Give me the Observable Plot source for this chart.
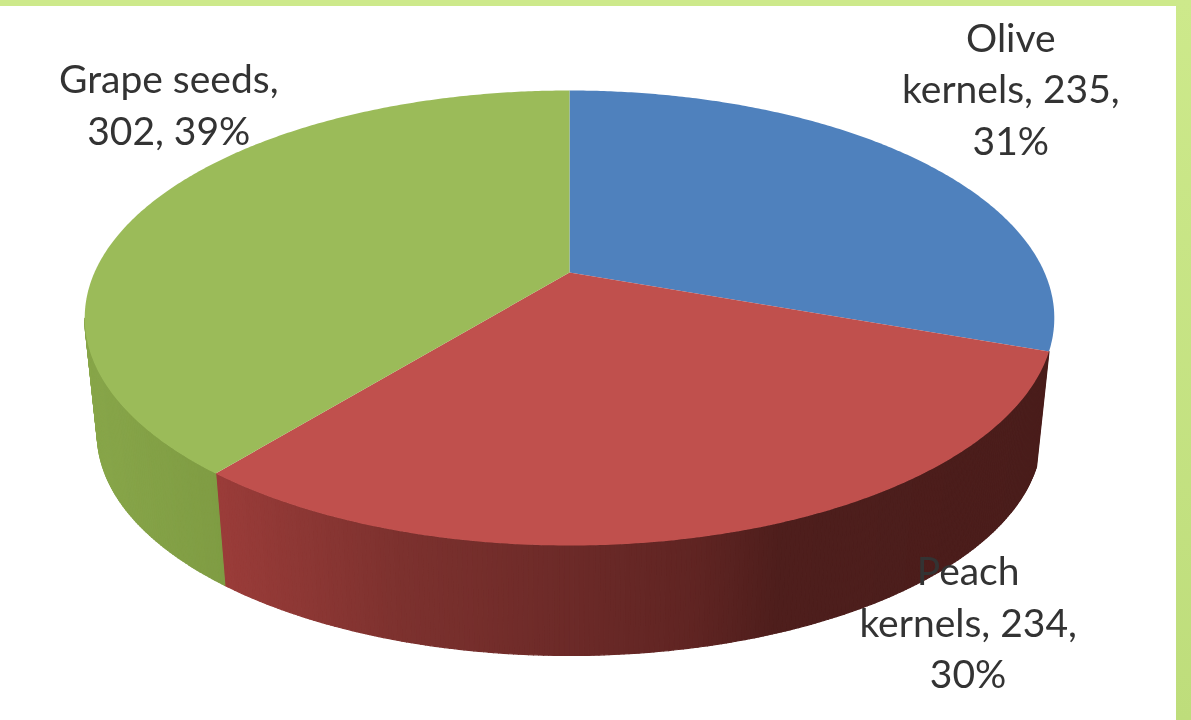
<!DOCTYPE html>
<html>
<head>
<meta charset="utf-8">
<script src="https://cdn.jsdelivr.net/npm/d3@7"></script>
<script src="https://cdn.jsdelivr.net/npm/@observablehq/plot@0.6"></script>
<style>
  html, body { margin: 0; padding: 0; background: #fff; overflow: hidden; }
  #chart { position: relative; width: 1191px; height: 720px; }
  #chart svg { display: block; background: #fff; filter: blur(0.6px); }
  .band-top { position: absolute; left: 0; top: 0; width: 1191px; height: 6px; background: #cde98b; }
  .band-right { position: absolute; left: 1176px; top: 0; width: 15px; height: 720px;
    background: linear-gradient(#cde98b, #bedd7b); }
</style>
</head>
<body>
<div id="chart"><div class="band-top"></div><div class="band-right"></div></div>
<script>
const categories = ["Olive kernels", "Peach kernels", "Grape seeds"];
const amounts = [235, 234, 302];
const percents = [31, 30, 39];

const topColors = ["#4f81bd", "#c0504d", "#9bbb59"];

// Perspective of the tilted disc: far edge smaller, lower face slightly shrunk and lifted away
const tilt = 0.2, shrink = 0.974, drop = 0.536;
const project = (t, r, s, lift) => {
  const u = r * Math.sin(t), v = r * Math.cos(t), w = 1 + tilt * v;
  return {x: (s * u) / w, y: (s * v) / w - lift};
};

const total = d3.sum(amounts);
const ends = d3.cumsum(amounts).map((d) => (d / total) * 2 * Math.PI);
const starts = [0, ...ends.slice(0, -1)];
const step = Math.PI / 360;

const angles = (a, b) => {
  const n = Math.ceil((b - a) / step);
  return d3.range(n + 1).map((i) => a + ((b - a) * i) / n);
};

// Side wall colour per slice, shaded across the rim from left to right
const sideRed = d3.scaleLinear()
  .domain([-0.74, -0.356, 0, 0.276, 0.444, 1])
  .range(["#9a3c39", "#7c312e", "#6c2a28", "#5f2422", "#4e1e1c", "#4a1d1b"])
  .interpolate(d3.interpolateRgb);
const sideGreen = d3.scaleLinear().domain([-0.74, -1])
  .range(["#7f9c43", "#87a549"]).interpolate(d3.interpolateRgb);
const sideShade = [null, sideRed, sideGreen]; // the olive wall is out of sight

const sides = [];
const tops = [];
categories.forEach((name, i) => {
  const ts = angles(starts[i], ends[i]);
  if (sideShade[i]) d3.pairs(ts).forEach(([a, b], j) => {
    if (Math.cos((a + b) / 2) >= -tilt) return; // faces away from the viewer
    const c = d3.color(sideShade[i](project((a + b) / 2, 1, 1, 0).x)).formatHex();
    const quad = [
      project(a, 1, 1, 0), project(b, 1, 1, 0),
      project(b, 1, shrink, drop), project(a, 1, shrink, drop)
    ];
    quad.forEach((p) => sides.push({...p, id: `${name}-${j}`, c}));
  });
  [project(0, 0, 1, 0), ...ts.map((t) => project(t, 1, 1, 0))]
    .forEach((p) => tops.push({...p, id: name, c: topColors[i]}));
});

const mids = starts.map((s, i) => (s + ends[i]) / 2);
const labelOf = (i, text) => ({...project(mids[i], 1, 1, 0), text});
const labelStyle = {
  x: "x", y: "y", text: "text", fill: "#333333", fontSize: 39,
  fontFamily: "Lato, 'Open Sans', sans-serif", lineHeight: 1.33,
  textAnchor: "middle", lineAnchor: "middle"
};

const plot = Plot.plot({
  width: 1191,
  height: 720,
  margin: 0,
  x: {domain: [-569 / 475, (1191 - 569) / 475], range: [0, 1191], axis: null},
  y: {domain: [272 / 218.4, (272 - 720) / 218.4], range: [0, 720], axis: null},
  color: {type: "identity"},
  marks: [
    Plot.line(sides, {x: "x", y: "y", z: "id", fill: "c", stroke: "c", strokeWidth: 1.2, curve: "linear-closed"}),
    Plot.line(tops, {x: "x", y: "y", z: "id", fill: "c", stroke: "none", curve: "linear-closed"}),
    Plot.text([labelOf(0, `Olive\nkernels, ${amounts[0]},\n${percents[0]}%`)], {...labelStyle, dx: 93, dy: -73}),
    Plot.text([labelOf(1, `Peach\nkernels, ${amounts[1]},\n${percents[1]}%`)], {...labelStyle, dx: 240, dy: 87}),
    Plot.text([labelOf(2, `Grape seeds,\n${amounts[2]}, ${percents[2]}%`)], {...labelStyle, dx: 19, dy: -102})
  ]
});
document.getElementById("chart").prepend(plot);
</script>
</body>
</html>
